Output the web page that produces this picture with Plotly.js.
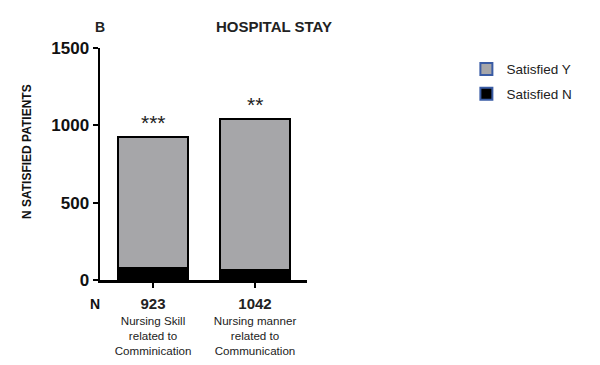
<!DOCTYPE html>
<html><head><meta charset="utf-8">
<script src="https://cdn.plot.ly/plotly-3.0.1.min.js"></script>
<style>html,body{margin:0;padding:0;background:#fff}#chart{width:600px;height:365px}</style>
</head><body><div id="chart"></div>
<script>
var categories = ["Nursing Skill<br>related to<br>Comminication", "Nursing manner<br>related to<br>Communication"];
var totalsN = [923, 1042];
var satisfiedN = [76, 60];
var satisfiedY = [847, 982];
var significance = ["***", "**"];
var yTicks = [0, 500, 1000, 1500];

var xIdx = categories.map(function(_, i){ return i; });
var tickText = categories.map(function(c, i){
  return '<span style="font-size:15px"><b>' + totalsN[i] + '</b></span><br>' + c;
});
var totals = satisfiedY.map(function(v, i){ return v + satisfiedN[i]; });

var lineBlack = {color: '#000', width: 2.5};
var legendLine = {color: '#3a5ca5', width: 2};
var traces = [
  {type: 'bar', name: 'Satisfied N', x: xIdx, y: satisfiedN, width: 0.69,
   marker: {color: '#000000', line: lineBlack}, showlegend: false, hoverinfo: 'skip'},
  {type: 'bar', name: 'Satisfied Y', x: xIdx, y: satisfiedY, width: 0.69,
   marker: {color: '#a6a6a9', line: lineBlack}, showlegend: false, hoverinfo: 'skip'},
  // legend-only swatches with the blue outline, drawn on a hidden axis pair outside its range
  {type: 'bar', name: 'Satisfied Y', x: [0], y: [1], xaxis: 'x2', yaxis: 'y2', legendgroup: 'y',
   marker: {color: '#a6a6a9', line: legendLine}, hoverinfo: 'skip'},
  {type: 'bar', name: 'Satisfied N', x: [0], y: [1], xaxis: 'x2', yaxis: 'y2', legendgroup: 'n',
   marker: {color: '#000000', line: legendLine}, hoverinfo: 'skip'}
];

var annotations = significance.map(function(s, i){
  return {x: xIdx[i], y: totals[i], xref: 'x', yref: 'y', text: s, showarrow: false,
    yanchor: 'bottom', yshift: 1, font: {family: 'Arial, Liberation Sans', size: 21, color: '#222'}};
});
annotations.push({x: 0, y: (280 - 27) / 232, xref: 'paper', yref: 'paper', text: '<b>B</b>',
  showarrow: false, xanchor: 'center', yanchor: 'middle', font: {family: 'Arial, Liberation Sans', size: 14, color: '#222'}});
annotations.push({x: (27 - 100) / 207, y: (280 - 152) / 232, xref: 'paper', yref: 'paper',
  text: '<b>N SATISFIED PATIENTS</b>', textangle: -90, showarrow: false, xanchor: 'center', yanchor: 'middle',
  font: {family: 'Arial, Liberation Sans', size: 12, color: '#111'}});
annotations.push({x: (95 - 100) / 207, y: (280 - 304) / 232, xref: 'paper', yref: 'paper',
  text: '<b>N</b>', showarrow: false, xanchor: 'center', yanchor: 'middle',
  font: {family: 'Arial, Liberation Sans', size: 14, color: '#111'}});

var layout = {
  width: 600, height: 365,
  margin: {l: 100, r: 293, t: 48, b: 85},
  paper_bgcolor: '#fff', plot_bgcolor: '#fff',
  barmode: 'stack',
  title: {text: '<b>HOSPITAL STAY</b>', x: 274/600, xanchor: 'center', y: 1 - 27/365, yanchor: 'middle',
    font: {family: 'Arial, Liberation Sans', size: 15, color: '#222'}},
  xaxis: {range: [-0.52, 1.51], tickvals: xIdx, ticktext: tickText, showgrid: false, zeroline: false,
    showline: true, linecolor: '#000', linewidth: 2.5, ticks: 'outside', ticklen: 5, tickwidth: 2, tickcolor: '#000',
    ticklabelstandoff: 8,
    tickfont: {family: 'Arial, Liberation Sans', size: 11.6, color: '#222'}, fixedrange: true},
  yaxis: {range: [0, 1500], tickvals: yTicks, showgrid: false, zeroline: false,
    showline: true, linecolor: '#000', linewidth: 2.5, ticks: 'outside', ticklen: 5, tickwidth: 2, tickcolor: '#000',
    tickfont: {family: 'Arial, Liberation Sans', size: 17, color: '#111', weight: 'bold'}, fixedrange: true},
  xaxis2: {visible: false, range: [5, 6], overlaying: 'x', fixedrange: true},
  yaxis2: {visible: false, range: [5, 6], overlaying: 'y', fixedrange: true},
  legend: {x: 1.77, y: 0.975, xanchor: 'left', yanchor: 'top', traceorder: 'grouped', tracegroupgap: 4,
    font: {family: 'Arial, Liberation Sans', size: 13.5, color: '#222'}, bgcolor: 'rgba(0,0,0,0)'},
  annotations: annotations,
  showlegend: true
};

Plotly.newPlot('chart', traces, layout, {displayModeBar: false, staticPlot: true});
</script>
</body></html>
